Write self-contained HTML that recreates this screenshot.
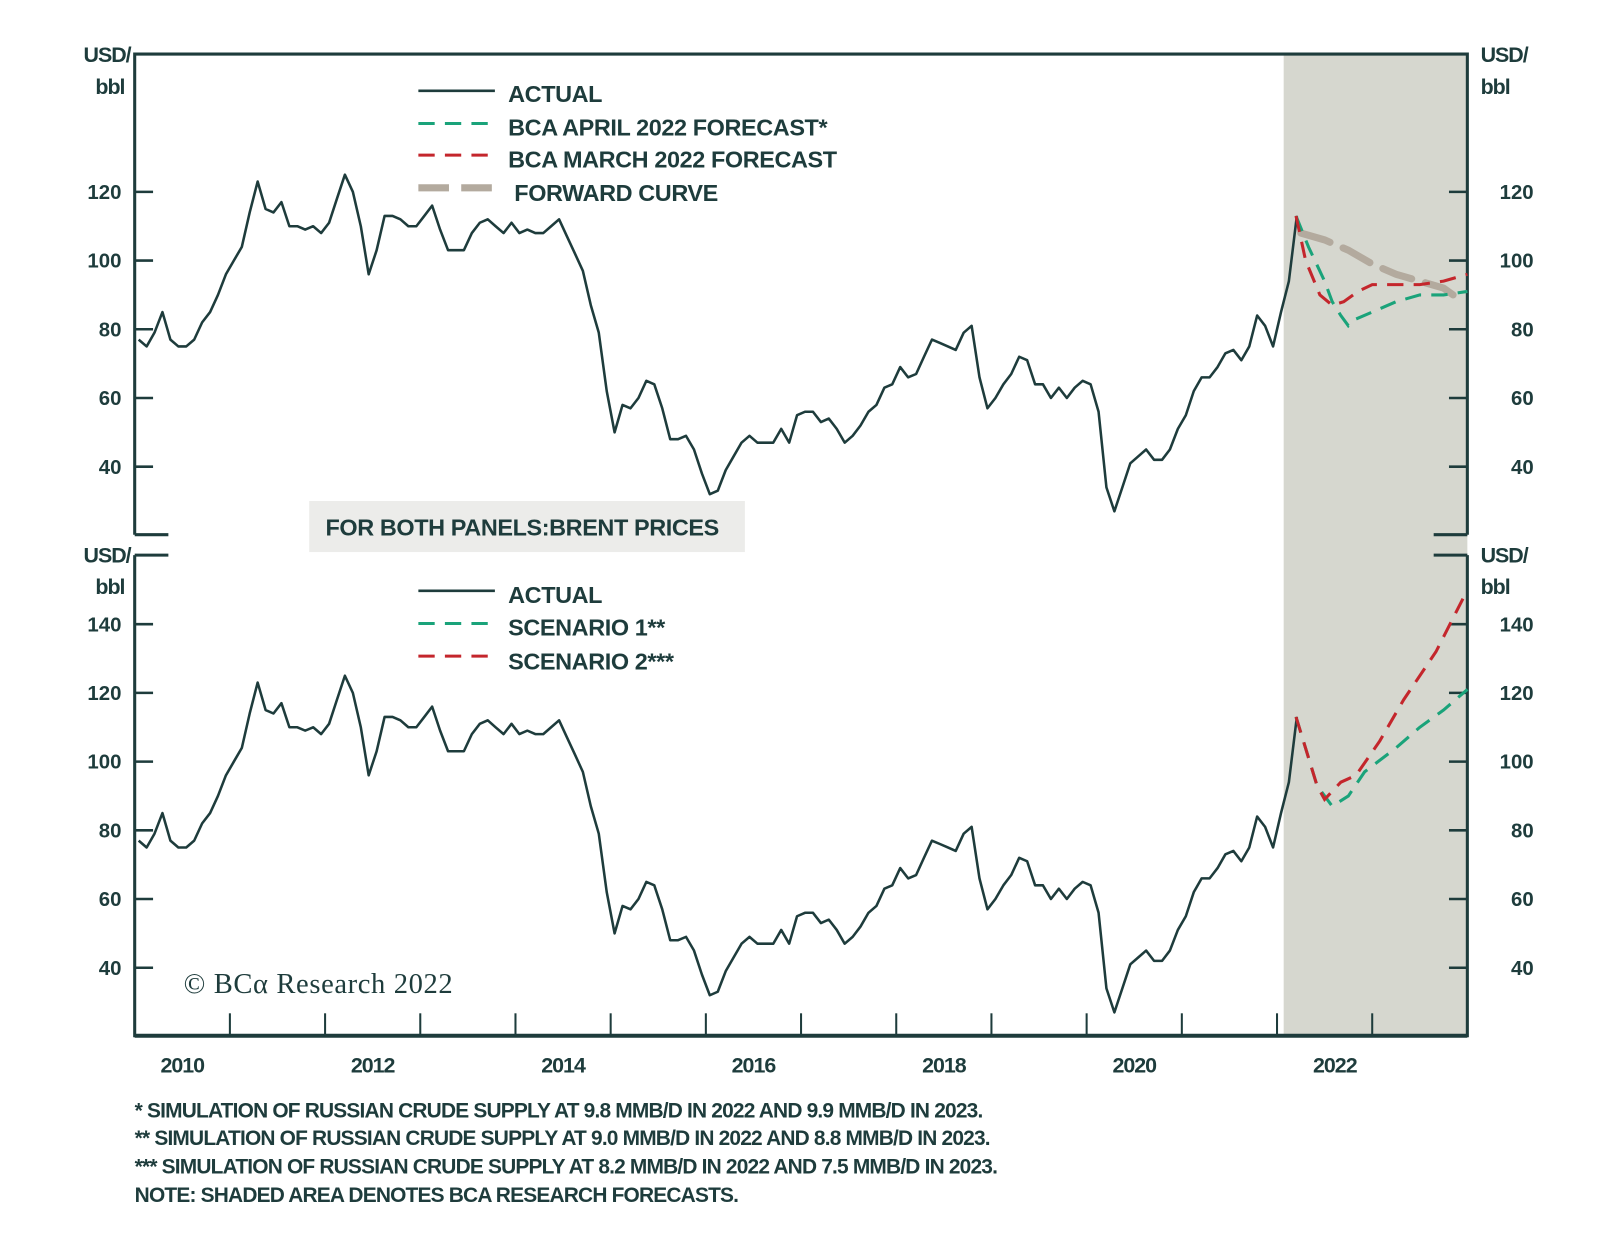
<!DOCTYPE html>
<html><head><meta charset="utf-8">
<style>
html,body{margin:0;padding:0;background:#fff;}
body{width:1600px;height:1228px;overflow:hidden;font-family:"Liberation Sans",sans-serif;}
svg text{font-family:"Liberation Sans",sans-serif;font-weight:bold;fill:#1e3c3c;}
</style></head>
<body>
<svg id="chart" width="1600" height="1228" viewBox="0 0 1568 1203.4" preserveAspectRatio="none" xmlns="http://www.w3.org/2000/svg">
<rect x="1258" y="53" width="180" height="962" fill="#d6d7cf"/>
<g id="axes"></g>
<g id="series"></g>
<g font-size="23" letter-spacing="-0.4">
<line x1="410" y1="89" x2="485" y2="89" stroke="#1e3c3c" stroke-width="2.5"/>
<text x="498" y="100">ACTUAL</text>
<line x1="410" y1="121" x2="485" y2="121" stroke="#1aa37a" stroke-width="3" stroke-dasharray="16,10"/>
<text x="498" y="133">BCA APRIL 2022 FORECAST*</text>
<line x1="410" y1="152" x2="485" y2="152" stroke="#c4262c" stroke-width="3" stroke-dasharray="16,10"/>
<text x="498" y="164">BCA MARCH 2022 FORECAST</text>
<line x1="410" y1="184" x2="487" y2="184" stroke="#b3aa9e" stroke-width="7" stroke-dasharray="30,12"/>
<text x="504" y="197">FORWARD CURVE</text>
</g>
<g font-size="23" letter-spacing="-0.4">
<line x1="410" y1="579" x2="485" y2="579" stroke="#1e3c3c" stroke-width="2.5"/>
<text x="498" y="591">ACTUAL</text>
<line x1="410" y1="611" x2="485" y2="611" stroke="#1aa37a" stroke-width="3" stroke-dasharray="16,10"/>
<text x="498" y="623">SCENARIO 1**</text>
<line x1="410" y1="643" x2="485" y2="643" stroke="#c4262c" stroke-width="3" stroke-dasharray="16,10"/>
<text x="498" y="656">SCENARIO 2***</text>
</g>
<rect x="303" y="491" width="427" height="50" fill="#ececea"/>
<text x="319" y="525" font-size="23" letter-spacing="-0.4">FOR BOTH PANELS:BRENT PRICES</text>
<text x="180" y="973" font-size="28" letter-spacing="0.6" style="font-family:'Liberation Serif',serif;font-weight:normal" fill="#1e3c3c">© BCα Research 2022</text>
<g font-size="20.5" letter-spacing="-0.8">
<text x="132" y="1095">*  SIMULATION OF RUSSIAN CRUDE SUPPLY AT 9.8 MMB/D IN 2022 AND 9.9 MMB/D IN 2023.</text>
<text x="132" y="1122">** SIMULATION OF RUSSIAN CRUDE SUPPLY AT 9.0 MMB/D IN 2022 AND 8.8 MMB/D IN 2023.</text>
<text x="132" y="1150">*** SIMULATION OF RUSSIAN CRUDE SUPPLY AT 8.2 MMB/D IN 2022 AND 7.5 MMB/D IN 2023.</text>
<text x="132" y="1178">NOTE: SHADED AREA DENOTES BCA RESEARCH FORECASTS.</text>
</g>
</svg>
<script>
const actual = [
77,75,79,85,77,75,75,77,82,85,90,96,
100,104,114,123,115,114,117,110,110,109,110,108,
111,118,125,120,110,96,103,113,113,112,110,110,
113,116,109,103,103,103,108,111,112,110,108,111,
108,109,108,108,110,112,107,102,97,87,79,62,
50,58,57,60,65,64,57,48,48,49,45,38,
32,33,39,43,47,49,47,47,47,51,47,55,
56,56,53,54,51,47,49,52,56,58,63,64,
69,66,67,72,77,76,75,74,79,81,66,57,
60,64,67,72,71,64,64,60,63,60,63,65,
64,56,34,27,34,41,43,45,42,42,45,51,
55,62,66,66,69,73,74,71,75,84,81,75,
85,94,113];
const aprilT = [12.2,12.33,12.5,12.58,12.67,12.75,12.83,13.0,13.25,13.5,13.75,14.0];
const aprilV = [113,104,94,88,84,81,83,85,88,90,90,91];
const marchT = [12.2,12.3,12.45,12.58,12.7,12.85,13.0,13.25,13.5,13.75,14.0];
const marchV = [113,100,90,87,88,91,93,93,93,94,96];
const fwdT = [12.25,12.5,12.75,13.0,13.25,13.5,13.75,13.95];
const fwdV = [108,106,103,99,96,94,92,88];
const sc1T = [12.2,12.42,12.58,12.75,12.92,13.25,13.5,13.75,14.0];
const sc1V = [113,93,87,90,97,104,110,115,121];
const sc2T = [12.2,12.42,12.5,12.67,12.83,13.08,13.33,13.67,14.0];
const sc2V = [113,93,89,94,96,106,118,132,150];
const topTicks = [40,60,80,100,120];
const botTicks = [40,60,80,100,120,140];
const yearLabels = ["2010","2012","2014","2016","2018","2020","2022"];

const NS="http://www.w3.org/2000/svg";
const X0=132, X1=1438, YR=93.29;
const PX=3.367;
function xs(t){return X0+t*YR;}
function yTop(v){return 188+(120-v)*PX;}
function yBot(v){return 679+(120-v)*PX;}
function mk(tag,attrs,parent){const e=document.createElementNS(NS,tag);for(const k in attrs)e.setAttribute(k,attrs[k]);parent.appendChild(e);return e;}
const axes=document.getElementById('axes'), ser=document.getElementById('series');
const C="#1e3c3c";
let e;
e=mk('path',{d:`M${X0},524 V53 H${X1} V524`,fill:'none',stroke:C,'stroke-width':3},axes);


e=mk('path',{d:`M${X0},524 H165 M${X1},524 H1405 M${X0},544 H165 M${X1},544 H1405`,fill:'none',stroke:C,'stroke-width':3},axes);


e=mk('path',{d:`M${X0},544 V1015 H${X1} V544`,fill:'none',stroke:C,'stroke-width':3},axes);


mk('line',{x1:X0,y1:1015,x2:X1,y2:1015,stroke:C,'stroke-width':4},axes);
for(let y=1;y<14;y++){
  e=mk('line',{x1:xs(y),y1:1015,x2:xs(y),y2:993,stroke:C,'stroke-width':2},axes);
  
  
}
yearLabels.forEach((l,i)=>{
  e=mk('text',{x:xs(i*2+0.5)+(i==6?10:0),y:1051,'font-size':21,'text-anchor':'middle','letter-spacing':'-1'},axes);
  e.textContent=l;
  
  
});
function yAxis(ticks,fy){
  ticks.forEach(v=>{
    const y=fy(v);
    mk('line',{x1:X0,y1:y,x2:X0+18,y2:y,stroke:C,'stroke-width':2.5},axes);
    mk('line',{x1:X1-18,y1:y,x2:X1,y2:y,stroke:C,'stroke-width':2.5},axes);
    e=mk('text',{x:119,y:y+7,'font-size':20,'text-anchor':'end'},axes);
    e.textContent=v;
    
    
    e=mk('text',{x:1503,y:y+7,'font-size':20,'text-anchor':'end'},axes);
    e.textContent=v;
    
    
  });
}
yAxis(topTicks,yTop); yAxis(botTicks,yBot);
[61,551].forEach(y=>{
  [[128,'end'],[1451,'start']].forEach(([x,a])=>{
    e=mk('text',{x:x,y:y,'font-size':21,'text-anchor':a,'letter-spacing':'-1'},axes);
    e.textContent='USD/';
    
    
    e=mk('text',{x:a=='end'?122:1451,y:y+31,'font-size':21,'text-anchor':a,'letter-spacing':'-1'},axes);
    e.textContent='bbl';
    
    
  });
});
function line(ts,vs,fy,attrs,name){
  const d=ts.map((t,i)=>(i?'L':'M')+xs(t).toFixed(1)+','+fy(vs[i]).toFixed(1)).join(' ');
  const p=mk('path',Object.assign({d:d,fill:'none'},attrs),ser);
  
  
}
const at=actual.map((_,i)=>(i+0.5)/12);
const solid={stroke:C,'stroke-width':2.5,'stroke-linejoin':'round'};
line(at,actual,yTop,solid,'actual-line-top');
line(at,actual,yBot,solid,'actual-line-bottom');
line(fwdT,fwdV,yTop,{stroke:'#b3aa9e','stroke-width':7,'stroke-dasharray':'30,14','stroke-linecap':'round'},'forward-curve');
line(aprilT,aprilV,yTop,{stroke:'#1aa37a','stroke-width':3,'stroke-dasharray':'16,10'},'april-forecast');
line(marchT,marchV,yTop,{stroke:'#c4262c','stroke-width':3,'stroke-dasharray':'16,10'},'march-forecast');
line(sc1T,sc1V,yBot,{stroke:'#1aa37a','stroke-width':3,'stroke-dasharray':'16,10'},'scenario-1');
line(sc2T,sc2V,yBot,{stroke:'#c4262c','stroke-width':3,'stroke-dasharray':'16,10'},'scenario-2');
</script>
</body></html>
